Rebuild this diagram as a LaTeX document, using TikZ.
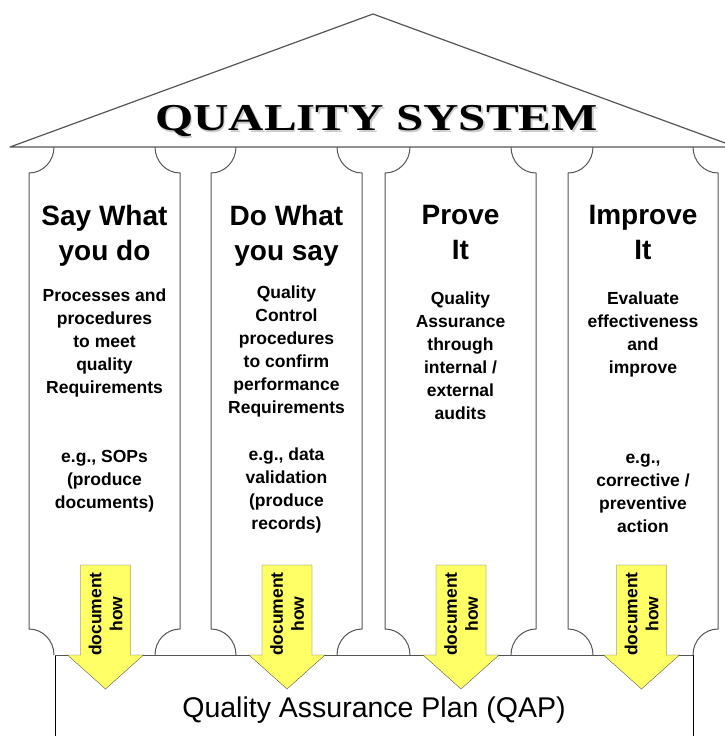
\documentclass[tikz,border=0pt]{standalone}
\usepackage{fontspec}
\setmainfont{Liberation Sans}
\newfontfamily\roofserif{Liberation Serif}
\usetikzlibrary{calc}
\definecolor{ylw}{HTML}{FFFF66}
\definecolor{g}{HTML}{555555}
\definecolor{sh}{HTML}{CCCCCC}

\begin{document}
\begin{tikzpicture}[x=1pt, y=-1pt,
    col/.style={g, line width=1pt},
    head/.style={font=\fontsize{28}{35}\selectfont\bfseries, align=center, anchor=north, inner sep=0pt},
    body/.style={font=\fontsize{17.5}{23}\selectfont\bfseries, align=center, anchor=north, inner sep=0pt},
    doc/.style={font=\fontsize{17.5}{21}\selectfont\bfseries, align=center, rotate=90, inner sep=0pt}]
    \useasboundingbox (0,0) rectangle (725,736);
    \clip (0,0) rectangle (725,736);

    % Roof
    \draw[g, line width=1.2pt, line join=round] (10,147) -- (373,14) -- (736,147) -- cycle;
    \node[text=sh] (roofshadow) at (378,123) {\roofserif\bfseries\fontsize{38}{40}\selectfont\scalebox{1.29}[1]{QUALITY SYSTEM}};
    \node (roof) at (376.5,121) {\roofserif\bfseries\fontsize{38}{40}\selectfont\scalebox{1.29}[1]{QUALITY SYSTEM}};

    % Base
    \draw[black, line width=1pt] (55,740) -- (55,655);
    \draw[black, line width=1pt] (693,740) -- (693,655);
    \draw[col] (55,655) -- (693,655);
    \node[font=\fontsize{28.5}{30}\selectfont, anchor=base] (qap) at (374,717) {Quality Assurance Plan (QAP)};

    % Columns
    \foreach \xl/\xr in {29/180, 211/362, 385/536, 568/718}
        \draw[col] (\xl+25,147) arc[start angle=0, end angle=90, x radius=25, y radius=26]
            -- (\xl,629) arc[start angle=-90, end angle=0, x radius=25, y radius=26]
            (\xr-25,655) arc[start angle=180, end angle=270, x radius=25, y radius=26]
            -- (\xr,173) arc[start angle=90, end angle=180, x radius=25, y radius=26];

    % Say what you do
    \node[head] (say) at (104.5,205) {Say What\\you do};
    \node[body] (sayproc) at (104.5,289) {Processes and\\procedures\\to meet\\quality\\Requirements};
    \node[body] (sayeg) at (104.5,450) {e.g., SOPs\\(produce\\documents)};

    % Do what you say
    \node[head] (do) at (286.5,205) {Do What\\you say};
    \node[body] (doproc) at (286.5,286) {Quality\\Control\\procedures\\to confirm\\performance\\Requirements};
    \node[body] (doeg) at (286.5,448) {e.g., data\\validation\\(produce\\records)};

    % Prove it
    \node[head] (prove) at (460.5,205) {Prove\\It};
    \node[body] (proveqa) at (460.5,292) {Quality\\Assurance\\through\\internal /\\external\\audits};

    % Improve it
    \node[head] (improve) at (643,205) {Improve\\It};
    \node[body] (improveeval) at (643,292) {Evaluate\\effectiveness\\and\\improve};
    \node[body] (improveeg) at (643,454) {e.g.,\\corrective /\\preventive\\action};

    % document how arrows
    \foreach \cx [count=\i] in {105.5, 287, 461, 641.5} {
        \draw[g, fill=ylw, line join=miter] (\cx-25,565) -- ++(50,0) -- ++(0,90) -- ++(13,0)
            -- (\cx,689) -- (\cx-38,655) -- ++(13,0) -- cycle;
        \node[doc] (doc\i) at (\cx,614) {document\\how};
    }
\end{tikzpicture}
\end{document}
